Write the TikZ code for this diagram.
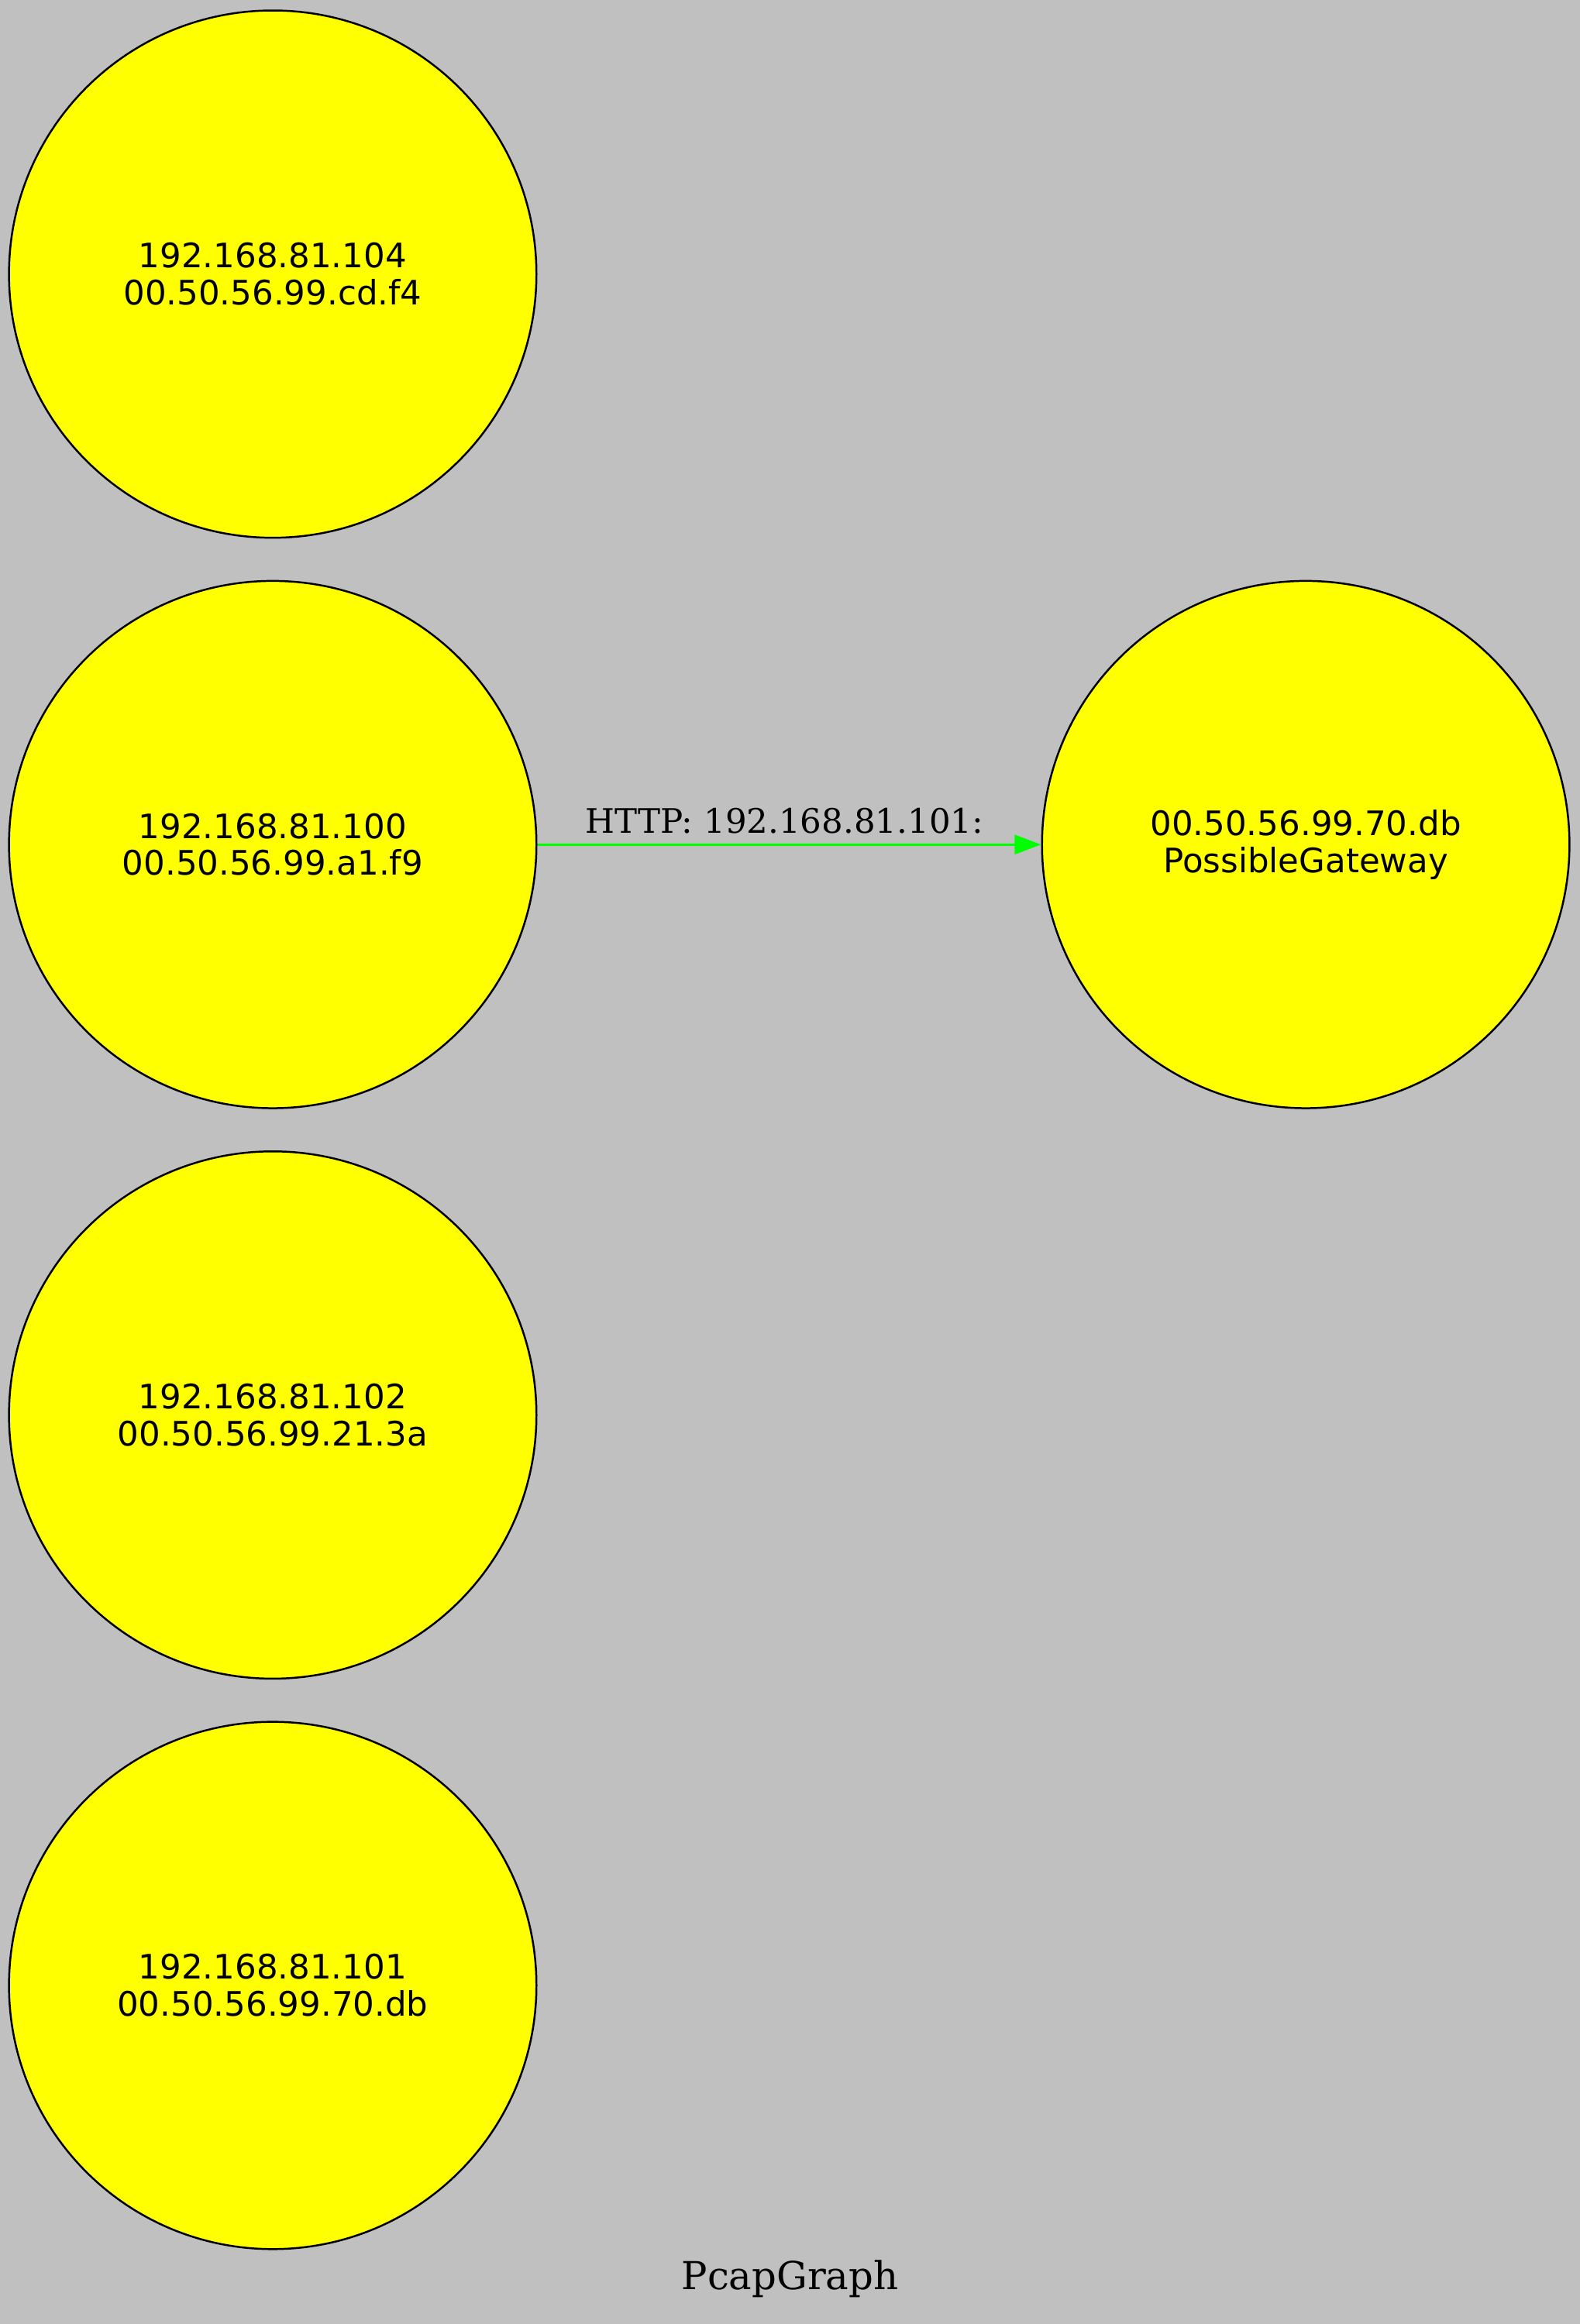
\documentclass[tikz,border=0pt]{standalone}
\usepackage{fontspec}
\usepackage{xcolor}
\usepackage{tikz}
\usetikzlibrary{arrows.meta}
\usetikzlibrary{shapes,positioning,calc}

\newfontfamily\hostfont{DejaVu Sans}
\newfontfamily\labelfont{DejaVu Serif}
\definecolor{bggray}{RGB}{192,192,192}
\definecolor{hostyellow}{RGB}{255,255,0}
\definecolor{linkgreen}{RGB}{0,255,0}

\tikzset{
	host/.style={circle, draw=black, line width=0.8pt, fill=hostyellow,
		inner sep=0pt, minimum size=219pt, align=center,
		font=\hostfont\fontsize{14}{15.4}\selectfont},
	link/.style={draw=linkgreen, line width=1pt,
		-{Triangle[length=11pt,width=8pt]}},
	linklabel/.style={font=\labelfont\fontsize{14}{16}\selectfont, inner sep=4pt}
}

\begin{document}
\begin{tikzpicture}[x=0.6154pt, y=-0.6154pt]
% Grey canvas, which also fixes the size of the page.
\fill[bggray] (0,0) rectangle (1066,1568.5);
\useasboundingbox (0,0) rectangle (1066,1568.5);

% The hosts found in the capture, stacked in one column.
\node[host] (h104) at (184,185) {192.168.81.104\\00.50.56.99.cd.f4};
\node[host] (h100) at (184,570) {192.168.81.100\\00.50.56.99.a1.f9};
\node[host] (h102) at (184,955) {192.168.81.102\\00.50.56.99.21.3a};
\node[host] (h101) at (184,1340) {192.168.81.101\\00.50.56.99.70.db};

% The gateway guessed from the traffic.
\node[host] (gw) at (881,570) {00.50.56.99.70.db\\PossibleGateway};

% Traffic between the hosts.
\draw[link] (h100) -- node[linklabel, above, xshift=-2pt] {HTTP: 192.168.81.101:} (gw);

% Title of the graph.
\node[font=\labelfont\fontsize{16}{18}\selectfont, anchor=base] (title)
	at (533,1545) {PcapGraph};
\end{tikzpicture}
\end{document}
